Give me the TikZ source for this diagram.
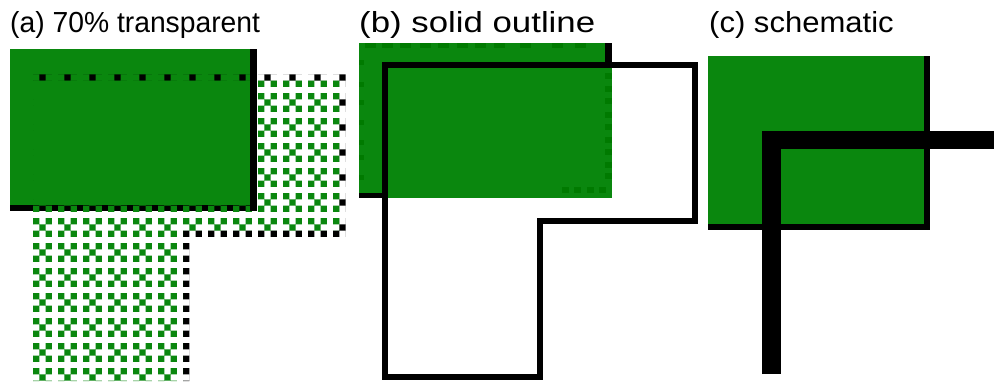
\documentclass[tikz,border=0pt]{standalone}
\usepackage{fontspec}
\setmainfont{Liberation Sans}
\definecolor{pgreen}{RGB}{10,135,14}
\definecolor{dgreen}{RGB}{0,122,0}
\newcommand\dithX[2]{%
  (#1,#2) rectangle ++(6.25,6.25)
  (#1+12.5,#2) rectangle ++(6.25,6.25)
  (#1+6.25,#2+6.25) rectangle ++(6.25,6.25)
  (#1,#2+12.5) rectangle ++(6.25,6.25)
  (#1+12.5,#2+12.5) rectangle ++(6.25,6.25)}
\tikzset{
  lbl/.style={anchor=base west, inner sep=0pt, font=\fontsize{29}{34}\selectfont},
  outlineL/.style={line width=6pt, miter limit=10},
  wire/.style={line width=18.7pt}
}
\begin{document}
\begin{tikzpicture}[x=1pt,y=-1pt]
\useasboundingbox (0,0) rectangle (994,381);
\fill[white] (0,0) rectangle (994,381);
% labels
\node[lbl, xscale=0.975] (la) at (10,32) {(a) 70\% transparent};
\node[lbl, xscale=1.2] (lb) at (359,32) {(b) solid outline};
\node[lbl, xscale=1.07] (lc) at (709,32) {(c) schematic};
% ---------- (a)
\fill[black] (10,49) rectangle (256.7,211);
\fill[pgreen] (10,49) rectangle (250,205);
\begin{scope}
  \clip (26.75,74.25) rectangle (345.5,80.5)
        (339.25,74.25) rectangle (345.5,236.75)
        (183,230.5) rectangle (345.5,236.75)
        (183,230.5) rectangle (189.25,381)
        (26.75,74.25) rectangle (33,381);
  \foreach \i in {0,...,12}{\foreach \j in {0,...,12}{
    \fill[black] \dithX{33+25*\i}{68+25*\j};}}
\end{scope}
\begin{scope}
  \clip (33,80.5) -- (339.25,80.5) -- (339.25,230.5) -- (183,230.5) -- (183,381) -- (33,381) -- cycle;
  \foreach \i in {0,...,12}{\foreach \j in {0,...,12}{
    \fill[pgreen] \dithX{33+25*\i}{68+25*\j};}}
\end{scope}
\fill[black] (250,49) rectangle (256.7,211);
% ---------- (b)
\fill[black] (359,43) rectangle (611.7,198.3);
\fill[pgreen] (359,43) rectangle (605,193);
\fill[pgreen] (385,65) rectangle (611.7,198.3);
\foreach \y in {73,86,98,112,124,137,149,162,173}{\fill[dgreen] (605,\y) rectangle ++(6.5,6);}
\foreach \x in {562,574,587,599}{\fill[dgreen] (\x,187) rectangle ++(6.5,6);}
\foreach \x in {365,382,400,420,438,457,475,494,520,552,575}{\fill[dgreen] (\x,43) rectangle ++(11,5);}
\foreach \y in {60,82,100,120,140,155,175}{\fill[dgreen] (359,\y) rectangle ++(4.5,5);}
\draw[outlineL] (385.3,65.3) -- (695.3,65.3) -- (695.3,221.2) -- (540,221.2) -- (540,377) -- (385.3,377) -- cycle;
% ---------- (c)
\fill[black] (708,56) rectangle (930,230);
\fill[pgreen] (708,56) rectangle (924,224);
\coordinate (cbot) at (771.5,374);
\coordinate (ccorner) at (771.5,140);
\coordinate (cend) at (994,140);
\draw[wire] (cbot) -- (ccorner) -- (cend);
\end{tikzpicture}
\end{document}
